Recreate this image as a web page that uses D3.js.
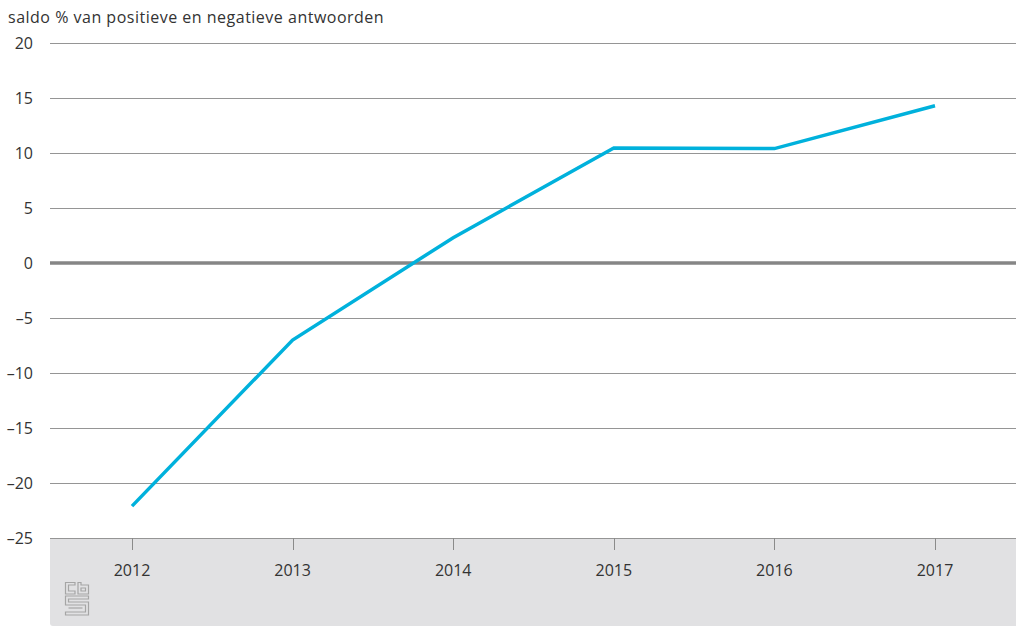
<!DOCTYPE html>
<html><head><meta charset="utf-8">
<script src="https://cdn.jsdelivr.net/npm/d3@7"></script>
<style>body{margin:0;background:#fff;} svg{display:block;font-family:"Open Sans","Noto Sans",sans-serif;}</style>
</head><body>
<svg id="c" width="1016" height="628"></svg>
<script>
const years = ["2012","2013","2014","2015","2016","2017"];
const saldo = [-22.1, -7.0, 2.3, 10.45, 10.4, 14.3];
const yTicks = [20, 15, 10, 5, 0, -5, -10, -15, -20, -25];
const yTitle = "saldo % van positieve en negatieve antwoorden";

const svg = d3.select("#c");
const L = 50, R = 1016, T = 43, B = 538;
const x = d3.scalePoint().domain(years).range([132, 935]);
const y = d3.scaleLinear().domain([-25, 20]).range([B, T]);

// bottom gray area
svg.append("path").attr("fill", "#e1e1e3")
  .attr("d", `M${L},${B} H${R} V626 H${L+3} Q${L},626 ${L},623 Z`);

// gridlines
svg.append("g").selectAll("line").data(yTicks.filter(d => d !== 0)).join("line")
  .attr("x1", L).attr("x2", R)
  .attr("y1", d => Math.round(y(d)) + 0.5).attr("y2", d => Math.round(y(d)) + 0.5)
  .attr("stroke", "#959595").attr("stroke-width", 1);

// y labels
svg.append("g").selectAll("text").data(yTicks).join("text")
  .attr("x", 33).attr("y", d => y(d)).attr("dy", "0.35em")
  .attr("text-anchor", "end").attr("font-size", 16).attr("fill", "#333")
  .text(d => d < 0 ? "\u2013" + Math.abs(d) : d);

// title
svg.append("text").attr("x", 8).attr("y", 23).attr("font-size", 16)
  .attr("letter-spacing", 0.5).attr("fill", "#333").text(yTitle);

// x ticks
svg.append("g").selectAll("line").data(years).join("line")
  .attr("x1", d => Math.round(x(d)) + 0.5).attr("x2", d => Math.round(x(d)) + 0.5)
  .attr("y1", B).attr("y2", B + 12).attr("stroke", "#8a8a8a").attr("stroke-width", 1);
svg.append("g").selectAll("text").data(years).join("text")
  .attr("x", d => x(d)).attr("y", 576).attr("text-anchor", "middle")
  .attr("font-size", 16).attr("fill", "#333").text(d => d);

// zero line
svg.append("line").attr("x1", L).attr("x2", R).attr("y1", y(0)).attr("y2", y(0))
  .attr("stroke", "#868686").attr("stroke-width", 3.5);

// data line
const line = d3.line().x((d, i) => x(years[i])).y(d => y(d));
svg.append("path").datum(saldo).attr("d", line).attr("fill", "none")
  .attr("stroke", "#00b1dc").attr("stroke-width", 3.5).attr("stroke-linejoin", "miter");

// CBS logo (approximation)
const lg = svg.append("g").attr("transform", "translate(65,582)").attr("fill", "none")
  .attr("stroke", "#a5a5a5").attr("stroke-width", 1.2);
lg.append("path").attr("d", "M0.5,0.5 H10 V3 H3.5 V9 H10 V12 H0.5 Z");
lg.append("path").attr("d", "M13,0.5 H16 V3 H23.5 V12 H13 Z M16,6 V9 H20.5 V6 Z");
lg.append("path").attr("d", "M0.5,14 H23.5 V17 H3.5 V20 H23.5 V33 H0.5 V30 H20.5 V23 H0.5 Z");
lg.append("path").attr("d", "M3.5,26 H17.5");
</script>
</body></html>
